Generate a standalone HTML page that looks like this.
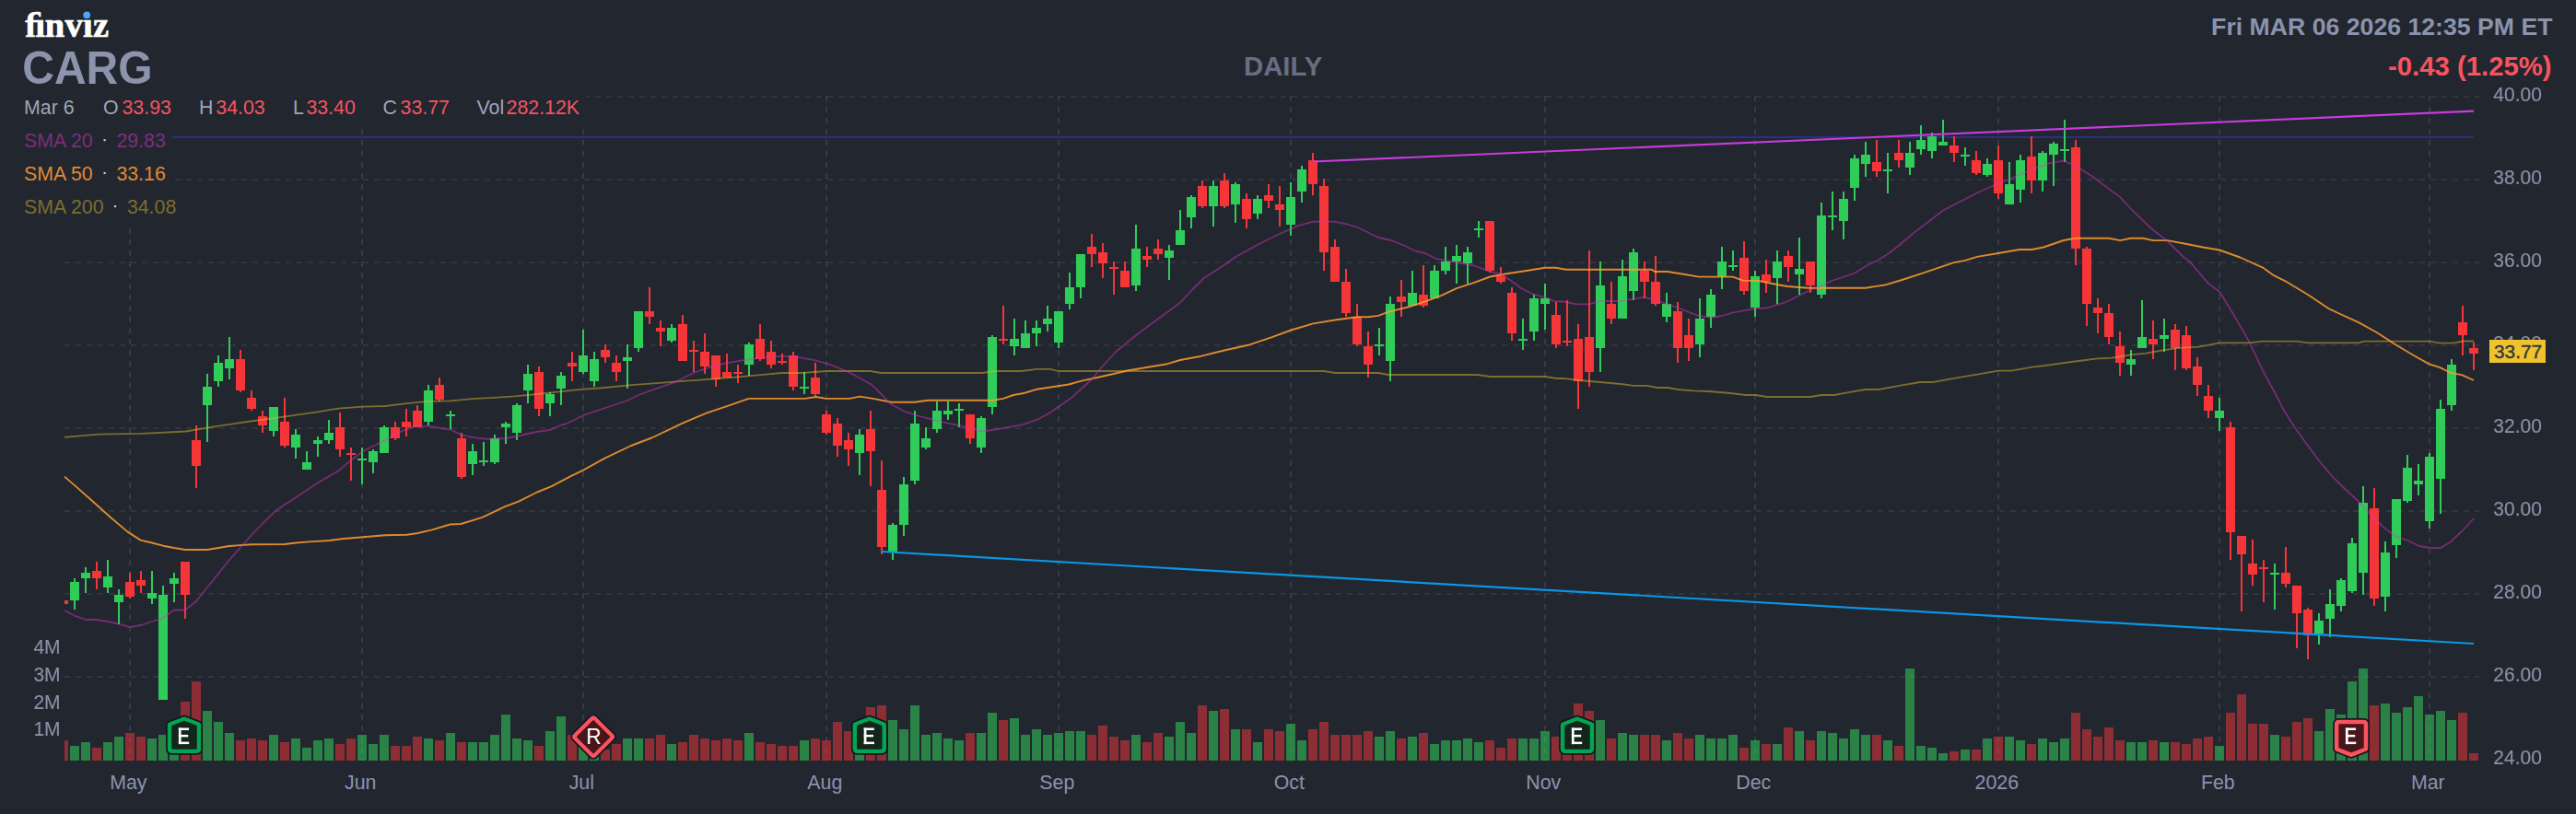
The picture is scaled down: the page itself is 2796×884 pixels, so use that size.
<!DOCTYPE html>
<html><head><meta charset="utf-8"><title>CARG</title><style>
html,body{margin:0;padding:0;background:#22262f;width:2796px;height:884px}
svg{display:block}text{font-family:"Liberation Sans",sans-serif}
.ax{font-size:21px;fill:#8a90a5}.lb{font-size:21.33px;fill:#9fa5b8}.rv{font-size:21.33px;fill:#f8535f}
.bl{stroke:#8a90a5;stroke-width:0.15px;filter:blur(0.4px)}</style></head><body>
<svg width="2796" height="884" viewBox="0 0 2796 884">
<rect x="0" y="0" width="2796" height="884" fill="#22262f"/>
<g stroke="#363a46" stroke-width="2" stroke-dasharray="6 6" fill="none" shape-rendering="crispEdges">
<line x1="70" y1="105" x2="2691" y2="105" stroke="#31353f"/>
<line x1="70" y1="195" x2="2691" y2="195" stroke="#31353f"/>
<line x1="70" y1="285" x2="2691" y2="285" stroke="#31353f"/>
<line x1="70" y1="375" x2="2691" y2="375" stroke="#31353f"/>
<line x1="70" y1="465" x2="2691" y2="465" stroke="#31353f"/>
<line x1="70" y1="555" x2="2691" y2="555" stroke="#31353f"/>
<line x1="70" y1="645" x2="2691" y2="645" stroke="#31353f"/>
<line x1="70" y1="735" x2="2691" y2="735" stroke="#31353f"/>
<line x1="141" y1="104" x2="141" y2="826"/>
<line x1="393" y1="104" x2="393" y2="826"/>
<line x1="633" y1="104" x2="633" y2="826"/>
<line x1="897" y1="104" x2="897" y2="826"/>
<line x1="1149" y1="104" x2="1149" y2="826"/>
<line x1="1401" y1="104" x2="1401" y2="826"/>
<line x1="1677" y1="104" x2="1677" y2="826"/>
<line x1="1905" y1="104" x2="1905" y2="826"/>
<line x1="2169" y1="104" x2="2169" y2="826"/>
<line x1="2409" y1="104" x2="2409" y2="826"/>
<line x1="2637" y1="104" x2="2637" y2="826"/>
</g>
<g shape-rendering="crispEdges">
<rect x="70" y="804" width="4" height="22" fill="#f63538" fill-opacity="0.51"/>
<rect x="76" y="810" width="10" height="16" fill="#30cc5a" fill-opacity="0.555"/>
<rect x="88" y="806" width="10" height="20" fill="#30cc5a" fill-opacity="0.555"/>
<rect x="100" y="812" width="10" height="14" fill="#f63538" fill-opacity="0.51"/>
<rect x="112" y="806" width="10" height="20" fill="#30cc5a" fill-opacity="0.555"/>
<rect x="124" y="800" width="10" height="26" fill="#30cc5a" fill-opacity="0.555"/>
<rect x="136" y="796" width="10" height="30" fill="#f63538" fill-opacity="0.51"/>
<rect x="148" y="800" width="10" height="26" fill="#f63538" fill-opacity="0.51"/>
<rect x="160" y="802" width="10" height="24" fill="#30cc5a" fill-opacity="0.555"/>
<rect x="172" y="798" width="10" height="28" fill="#30cc5a" fill-opacity="0.555"/>
<rect x="184" y="800" width="10" height="26" fill="#30cc5a" fill-opacity="0.555"/>
<rect x="196" y="762" width="10" height="64" fill="#f63538" fill-opacity="0.51"/>
<rect x="208" y="740" width="10" height="86" fill="#f63538" fill-opacity="0.51"/>
<rect x="220" y="772" width="10" height="54" fill="#30cc5a" fill-opacity="0.555"/>
<rect x="232" y="784" width="10" height="42" fill="#30cc5a" fill-opacity="0.555"/>
<rect x="244" y="796" width="10" height="30" fill="#30cc5a" fill-opacity="0.555"/>
<rect x="256" y="804" width="10" height="22" fill="#f63538" fill-opacity="0.51"/>
<rect x="268" y="802" width="10" height="24" fill="#f63538" fill-opacity="0.51"/>
<rect x="280" y="804" width="10" height="22" fill="#f63538" fill-opacity="0.51"/>
<rect x="292" y="798" width="10" height="28" fill="#30cc5a" fill-opacity="0.555"/>
<rect x="304" y="806" width="10" height="20" fill="#f63538" fill-opacity="0.51"/>
<rect x="316" y="802" width="10" height="24" fill="#30cc5a" fill-opacity="0.555"/>
<rect x="328" y="812" width="10" height="14" fill="#30cc5a" fill-opacity="0.555"/>
<rect x="340" y="804" width="10" height="22" fill="#30cc5a" fill-opacity="0.555"/>
<rect x="352" y="802" width="10" height="24" fill="#30cc5a" fill-opacity="0.555"/>
<rect x="364" y="808" width="10" height="18" fill="#f63538" fill-opacity="0.51"/>
<rect x="376" y="802" width="10" height="24" fill="#f63538" fill-opacity="0.51"/>
<rect x="388" y="798" width="10" height="28" fill="#30cc5a" fill-opacity="0.555"/>
<rect x="400" y="808" width="10" height="18" fill="#30cc5a" fill-opacity="0.555"/>
<rect x="412" y="798" width="10" height="28" fill="#30cc5a" fill-opacity="0.555"/>
<rect x="424" y="810" width="10" height="16" fill="#f63538" fill-opacity="0.51"/>
<rect x="436" y="810" width="10" height="16" fill="#f63538" fill-opacity="0.51"/>
<rect x="448" y="800" width="10" height="26" fill="#f63538" fill-opacity="0.51"/>
<rect x="460" y="802" width="10" height="24" fill="#30cc5a" fill-opacity="0.555"/>
<rect x="472" y="804" width="10" height="22" fill="#f63538" fill-opacity="0.51"/>
<rect x="484" y="796" width="10" height="30" fill="#30cc5a" fill-opacity="0.555"/>
<rect x="496" y="806" width="10" height="20" fill="#f63538" fill-opacity="0.51"/>
<rect x="508" y="806" width="10" height="20" fill="#30cc5a" fill-opacity="0.555"/>
<rect x="520" y="806" width="10" height="20" fill="#30cc5a" fill-opacity="0.555"/>
<rect x="532" y="798" width="10" height="28" fill="#30cc5a" fill-opacity="0.555"/>
<rect x="544" y="776" width="10" height="50" fill="#30cc5a" fill-opacity="0.555"/>
<rect x="556" y="802" width="10" height="24" fill="#30cc5a" fill-opacity="0.555"/>
<rect x="568" y="804" width="10" height="22" fill="#30cc5a" fill-opacity="0.555"/>
<rect x="580" y="810" width="10" height="16" fill="#f63538" fill-opacity="0.51"/>
<rect x="592" y="794" width="10" height="32" fill="#30cc5a" fill-opacity="0.555"/>
<rect x="604" y="778" width="10" height="48" fill="#30cc5a" fill-opacity="0.555"/>
<rect x="616" y="798" width="10" height="28" fill="#f63538" fill-opacity="0.51"/>
<rect x="628" y="806" width="10" height="20" fill="#30cc5a" fill-opacity="0.555"/>
<rect x="640" y="804" width="10" height="22" fill="#30cc5a" fill-opacity="0.555"/>
<rect x="652" y="814" width="10" height="12" fill="#f63538" fill-opacity="0.51"/>
<rect x="664" y="808" width="10" height="18" fill="#f63538" fill-opacity="0.51"/>
<rect x="676" y="802" width="10" height="24" fill="#30cc5a" fill-opacity="0.555"/>
<rect x="688" y="802" width="10" height="24" fill="#30cc5a" fill-opacity="0.555"/>
<rect x="700" y="802" width="10" height="24" fill="#f63538" fill-opacity="0.51"/>
<rect x="712" y="798" width="10" height="28" fill="#f63538" fill-opacity="0.51"/>
<rect x="724" y="808" width="10" height="18" fill="#30cc5a" fill-opacity="0.555"/>
<rect x="736" y="806" width="10" height="20" fill="#f63538" fill-opacity="0.51"/>
<rect x="748" y="798" width="10" height="28" fill="#f63538" fill-opacity="0.51"/>
<rect x="760" y="802" width="10" height="24" fill="#f63538" fill-opacity="0.51"/>
<rect x="772" y="804" width="10" height="22" fill="#f63538" fill-opacity="0.51"/>
<rect x="784" y="802" width="10" height="24" fill="#f63538" fill-opacity="0.51"/>
<rect x="796" y="804" width="10" height="22" fill="#f63538" fill-opacity="0.51"/>
<rect x="808" y="796" width="10" height="30" fill="#30cc5a" fill-opacity="0.555"/>
<rect x="820" y="806" width="10" height="20" fill="#f63538" fill-opacity="0.51"/>
<rect x="832" y="808" width="10" height="18" fill="#f63538" fill-opacity="0.51"/>
<rect x="844" y="810" width="10" height="16" fill="#f63538" fill-opacity="0.51"/>
<rect x="856" y="810" width="10" height="16" fill="#f63538" fill-opacity="0.51"/>
<rect x="868" y="804" width="10" height="22" fill="#30cc5a" fill-opacity="0.555"/>
<rect x="880" y="802" width="10" height="24" fill="#f63538" fill-opacity="0.51"/>
<rect x="892" y="804" width="10" height="22" fill="#f63538" fill-opacity="0.51"/>
<rect x="904" y="784" width="10" height="42" fill="#f63538" fill-opacity="0.51"/>
<rect x="916" y="794" width="10" height="32" fill="#f63538" fill-opacity="0.51"/>
<rect x="928" y="794" width="10" height="32" fill="#30cc5a" fill-opacity="0.555"/>
<rect x="940" y="768" width="10" height="58" fill="#f63538" fill-opacity="0.51"/>
<rect x="952" y="766" width="10" height="60" fill="#f63538" fill-opacity="0.51"/>
<rect x="964" y="782" width="10" height="44" fill="#30cc5a" fill-opacity="0.555"/>
<rect x="976" y="792" width="10" height="34" fill="#30cc5a" fill-opacity="0.555"/>
<rect x="988" y="766" width="10" height="60" fill="#30cc5a" fill-opacity="0.555"/>
<rect x="1000" y="798" width="10" height="28" fill="#30cc5a" fill-opacity="0.555"/>
<rect x="1012" y="796" width="10" height="30" fill="#30cc5a" fill-opacity="0.555"/>
<rect x="1024" y="802" width="10" height="24" fill="#30cc5a" fill-opacity="0.555"/>
<rect x="1036" y="804" width="10" height="22" fill="#30cc5a" fill-opacity="0.555"/>
<rect x="1048" y="796" width="10" height="30" fill="#f63538" fill-opacity="0.51"/>
<rect x="1060" y="796" width="10" height="30" fill="#30cc5a" fill-opacity="0.555"/>
<rect x="1072" y="774" width="10" height="52" fill="#30cc5a" fill-opacity="0.555"/>
<rect x="1084" y="782" width="10" height="44" fill="#f63538" fill-opacity="0.51"/>
<rect x="1096" y="780" width="10" height="46" fill="#30cc5a" fill-opacity="0.555"/>
<rect x="1108" y="798" width="10" height="28" fill="#30cc5a" fill-opacity="0.555"/>
<rect x="1120" y="792" width="10" height="34" fill="#30cc5a" fill-opacity="0.555"/>
<rect x="1132" y="798" width="10" height="28" fill="#30cc5a" fill-opacity="0.555"/>
<rect x="1144" y="796" width="10" height="30" fill="#30cc5a" fill-opacity="0.555"/>
<rect x="1156" y="794" width="10" height="32" fill="#30cc5a" fill-opacity="0.555"/>
<rect x="1168" y="794" width="10" height="32" fill="#30cc5a" fill-opacity="0.555"/>
<rect x="1180" y="798" width="10" height="28" fill="#f63538" fill-opacity="0.51"/>
<rect x="1192" y="788" width="10" height="38" fill="#f63538" fill-opacity="0.51"/>
<rect x="1204" y="800" width="10" height="26" fill="#f63538" fill-opacity="0.51"/>
<rect x="1216" y="804" width="10" height="22" fill="#f63538" fill-opacity="0.51"/>
<rect x="1228" y="798" width="10" height="28" fill="#30cc5a" fill-opacity="0.555"/>
<rect x="1240" y="806" width="10" height="20" fill="#f63538" fill-opacity="0.51"/>
<rect x="1252" y="796" width="10" height="30" fill="#f63538" fill-opacity="0.51"/>
<rect x="1264" y="800" width="10" height="26" fill="#30cc5a" fill-opacity="0.555"/>
<rect x="1276" y="784" width="10" height="42" fill="#30cc5a" fill-opacity="0.555"/>
<rect x="1288" y="796" width="10" height="30" fill="#30cc5a" fill-opacity="0.555"/>
<rect x="1300" y="766" width="10" height="60" fill="#f63538" fill-opacity="0.51"/>
<rect x="1312" y="772" width="10" height="54" fill="#30cc5a" fill-opacity="0.555"/>
<rect x="1324" y="770" width="10" height="56" fill="#f63538" fill-opacity="0.51"/>
<rect x="1336" y="792" width="10" height="34" fill="#30cc5a" fill-opacity="0.555"/>
<rect x="1348" y="792" width="10" height="34" fill="#f63538" fill-opacity="0.51"/>
<rect x="1360" y="806" width="10" height="20" fill="#30cc5a" fill-opacity="0.555"/>
<rect x="1372" y="792" width="10" height="34" fill="#f63538" fill-opacity="0.51"/>
<rect x="1384" y="794" width="10" height="32" fill="#f63538" fill-opacity="0.51"/>
<rect x="1396" y="786" width="10" height="40" fill="#30cc5a" fill-opacity="0.555"/>
<rect x="1408" y="804" width="10" height="22" fill="#30cc5a" fill-opacity="0.555"/>
<rect x="1420" y="792" width="10" height="34" fill="#f63538" fill-opacity="0.51"/>
<rect x="1432" y="784" width="10" height="42" fill="#f63538" fill-opacity="0.51"/>
<rect x="1444" y="798" width="10" height="28" fill="#f63538" fill-opacity="0.51"/>
<rect x="1456" y="798" width="10" height="28" fill="#f63538" fill-opacity="0.51"/>
<rect x="1468" y="798" width="10" height="28" fill="#f63538" fill-opacity="0.51"/>
<rect x="1480" y="794" width="10" height="32" fill="#f63538" fill-opacity="0.51"/>
<rect x="1492" y="800" width="10" height="26" fill="#30cc5a" fill-opacity="0.555"/>
<rect x="1504" y="794" width="10" height="32" fill="#30cc5a" fill-opacity="0.555"/>
<rect x="1516" y="802" width="10" height="24" fill="#f63538" fill-opacity="0.51"/>
<rect x="1528" y="800" width="10" height="26" fill="#30cc5a" fill-opacity="0.555"/>
<rect x="1540" y="796" width="10" height="30" fill="#f63538" fill-opacity="0.51"/>
<rect x="1552" y="808" width="10" height="18" fill="#30cc5a" fill-opacity="0.555"/>
<rect x="1564" y="804" width="10" height="22" fill="#30cc5a" fill-opacity="0.555"/>
<rect x="1576" y="804" width="10" height="22" fill="#30cc5a" fill-opacity="0.555"/>
<rect x="1588" y="802" width="10" height="24" fill="#30cc5a" fill-opacity="0.555"/>
<rect x="1600" y="806" width="10" height="20" fill="#30cc5a" fill-opacity="0.555"/>
<rect x="1612" y="804" width="10" height="22" fill="#f63538" fill-opacity="0.51"/>
<rect x="1624" y="812" width="10" height="14" fill="#f63538" fill-opacity="0.51"/>
<rect x="1636" y="802" width="10" height="24" fill="#f63538" fill-opacity="0.51"/>
<rect x="1648" y="802" width="10" height="24" fill="#30cc5a" fill-opacity="0.555"/>
<rect x="1660" y="802" width="10" height="24" fill="#30cc5a" fill-opacity="0.555"/>
<rect x="1672" y="794" width="10" height="32" fill="#30cc5a" fill-opacity="0.555"/>
<rect x="1684" y="800" width="10" height="26" fill="#f63538" fill-opacity="0.51"/>
<rect x="1696" y="796" width="10" height="30" fill="#f63538" fill-opacity="0.51"/>
<rect x="1708" y="764" width="10" height="62" fill="#f63538" fill-opacity="0.51"/>
<rect x="1720" y="772" width="10" height="54" fill="#f63538" fill-opacity="0.51"/>
<rect x="1732" y="782" width="10" height="44" fill="#30cc5a" fill-opacity="0.555"/>
<rect x="1744" y="802" width="10" height="24" fill="#f63538" fill-opacity="0.51"/>
<rect x="1756" y="796" width="10" height="30" fill="#30cc5a" fill-opacity="0.555"/>
<rect x="1768" y="798" width="10" height="28" fill="#30cc5a" fill-opacity="0.555"/>
<rect x="1780" y="798" width="10" height="28" fill="#f63538" fill-opacity="0.51"/>
<rect x="1792" y="798" width="10" height="28" fill="#f63538" fill-opacity="0.51"/>
<rect x="1804" y="804" width="10" height="22" fill="#30cc5a" fill-opacity="0.555"/>
<rect x="1816" y="796" width="10" height="30" fill="#f63538" fill-opacity="0.51"/>
<rect x="1828" y="802" width="10" height="24" fill="#f63538" fill-opacity="0.51"/>
<rect x="1840" y="798" width="10" height="28" fill="#30cc5a" fill-opacity="0.555"/>
<rect x="1852" y="802" width="10" height="24" fill="#30cc5a" fill-opacity="0.555"/>
<rect x="1864" y="802" width="10" height="24" fill="#30cc5a" fill-opacity="0.555"/>
<rect x="1876" y="798" width="10" height="28" fill="#30cc5a" fill-opacity="0.555"/>
<rect x="1888" y="812" width="10" height="14" fill="#f63538" fill-opacity="0.51"/>
<rect x="1900" y="804" width="10" height="22" fill="#30cc5a" fill-opacity="0.555"/>
<rect x="1912" y="808" width="10" height="18" fill="#f63538" fill-opacity="0.51"/>
<rect x="1924" y="808" width="10" height="18" fill="#30cc5a" fill-opacity="0.555"/>
<rect x="1936" y="790" width="10" height="36" fill="#f63538" fill-opacity="0.51"/>
<rect x="1948" y="794" width="10" height="32" fill="#30cc5a" fill-opacity="0.555"/>
<rect x="1960" y="804" width="10" height="22" fill="#f63538" fill-opacity="0.51"/>
<rect x="1972" y="794" width="10" height="32" fill="#30cc5a" fill-opacity="0.555"/>
<rect x="1984" y="796" width="10" height="30" fill="#30cc5a" fill-opacity="0.555"/>
<rect x="1996" y="802" width="10" height="24" fill="#30cc5a" fill-opacity="0.555"/>
<rect x="2008" y="792" width="10" height="34" fill="#30cc5a" fill-opacity="0.555"/>
<rect x="2020" y="798" width="10" height="28" fill="#30cc5a" fill-opacity="0.555"/>
<rect x="2032" y="798" width="10" height="28" fill="#f63538" fill-opacity="0.51"/>
<rect x="2044" y="804" width="10" height="22" fill="#30cc5a" fill-opacity="0.555"/>
<rect x="2056" y="810" width="10" height="16" fill="#f63538" fill-opacity="0.51"/>
<rect x="2068" y="726" width="10" height="100" fill="#30cc5a" fill-opacity="0.555"/>
<rect x="2080" y="810" width="10" height="16" fill="#30cc5a" fill-opacity="0.555"/>
<rect x="2092" y="812" width="10" height="14" fill="#30cc5a" fill-opacity="0.555"/>
<rect x="2104" y="818" width="10" height="8" fill="#30cc5a" fill-opacity="0.555"/>
<rect x="2116" y="816" width="10" height="10" fill="#f63538" fill-opacity="0.51"/>
<rect x="2128" y="814" width="10" height="12" fill="#30cc5a" fill-opacity="0.555"/>
<rect x="2140" y="814" width="10" height="12" fill="#f63538" fill-opacity="0.51"/>
<rect x="2152" y="802" width="10" height="24" fill="#30cc5a" fill-opacity="0.555"/>
<rect x="2164" y="800" width="10" height="26" fill="#f63538" fill-opacity="0.51"/>
<rect x="2176" y="800" width="10" height="26" fill="#30cc5a" fill-opacity="0.555"/>
<rect x="2188" y="804" width="10" height="22" fill="#30cc5a" fill-opacity="0.555"/>
<rect x="2200" y="808" width="10" height="18" fill="#f63538" fill-opacity="0.51"/>
<rect x="2212" y="802" width="10" height="24" fill="#30cc5a" fill-opacity="0.555"/>
<rect x="2224" y="806" width="10" height="20" fill="#30cc5a" fill-opacity="0.555"/>
<rect x="2236" y="802" width="10" height="24" fill="#30cc5a" fill-opacity="0.555"/>
<rect x="2248" y="774" width="10" height="52" fill="#f63538" fill-opacity="0.51"/>
<rect x="2260" y="792" width="10" height="34" fill="#f63538" fill-opacity="0.51"/>
<rect x="2272" y="800" width="10" height="26" fill="#f63538" fill-opacity="0.51"/>
<rect x="2284" y="790" width="10" height="36" fill="#f63538" fill-opacity="0.51"/>
<rect x="2296" y="804" width="10" height="22" fill="#f63538" fill-opacity="0.51"/>
<rect x="2308" y="806" width="10" height="20" fill="#30cc5a" fill-opacity="0.555"/>
<rect x="2320" y="806" width="10" height="20" fill="#30cc5a" fill-opacity="0.555"/>
<rect x="2332" y="804" width="10" height="22" fill="#f63538" fill-opacity="0.51"/>
<rect x="2344" y="806" width="10" height="20" fill="#30cc5a" fill-opacity="0.555"/>
<rect x="2356" y="806" width="10" height="20" fill="#f63538" fill-opacity="0.51"/>
<rect x="2368" y="808" width="10" height="18" fill="#f63538" fill-opacity="0.51"/>
<rect x="2380" y="802" width="10" height="24" fill="#f63538" fill-opacity="0.51"/>
<rect x="2392" y="800" width="10" height="26" fill="#f63538" fill-opacity="0.51"/>
<rect x="2404" y="810" width="10" height="16" fill="#30cc5a" fill-opacity="0.555"/>
<rect x="2416" y="774" width="10" height="52" fill="#f63538" fill-opacity="0.51"/>
<rect x="2428" y="754" width="10" height="72" fill="#f63538" fill-opacity="0.51"/>
<rect x="2440" y="786" width="10" height="40" fill="#f63538" fill-opacity="0.51"/>
<rect x="2452" y="786" width="10" height="40" fill="#f63538" fill-opacity="0.51"/>
<rect x="2464" y="798" width="10" height="28" fill="#30cc5a" fill-opacity="0.555"/>
<rect x="2476" y="800" width="10" height="26" fill="#f63538" fill-opacity="0.51"/>
<rect x="2488" y="784" width="10" height="42" fill="#f63538" fill-opacity="0.51"/>
<rect x="2500" y="780" width="10" height="46" fill="#f63538" fill-opacity="0.51"/>
<rect x="2512" y="794" width="10" height="32" fill="#30cc5a" fill-opacity="0.555"/>
<rect x="2524" y="770" width="10" height="56" fill="#30cc5a" fill-opacity="0.555"/>
<rect x="2536" y="776" width="10" height="50" fill="#30cc5a" fill-opacity="0.555"/>
<rect x="2548" y="740" width="10" height="86" fill="#30cc5a" fill-opacity="0.555"/>
<rect x="2560" y="726" width="10" height="100" fill="#30cc5a" fill-opacity="0.555"/>
<rect x="2572" y="766" width="10" height="60" fill="#f63538" fill-opacity="0.51"/>
<rect x="2584" y="764" width="10" height="62" fill="#30cc5a" fill-opacity="0.555"/>
<rect x="2596" y="774" width="10" height="52" fill="#30cc5a" fill-opacity="0.555"/>
<rect x="2608" y="768" width="10" height="58" fill="#30cc5a" fill-opacity="0.555"/>
<rect x="2620" y="756" width="10" height="70" fill="#30cc5a" fill-opacity="0.555"/>
<rect x="2632" y="776" width="10" height="50" fill="#30cc5a" fill-opacity="0.555"/>
<rect x="2644" y="772" width="10" height="54" fill="#30cc5a" fill-opacity="0.555"/>
<rect x="2656" y="782" width="10" height="44" fill="#30cc5a" fill-opacity="0.555"/>
<rect x="2668" y="774" width="10" height="52" fill="#f63538" fill-opacity="0.51"/>
<rect x="2680" y="818" width="10" height="8" fill="#f63538" fill-opacity="0.51"/>
</g>
<line x1="70" y1="149" x2="2685" y2="149" stroke="#2e2e86" stroke-width="2"/>
<g shape-rendering="crispEdges">
<rect x="70" y="652" width="4" height="4" fill="#f63538"/>
<rect x="80" y="628" width="2" height="34" fill="#30cc5a"/>
<rect x="76" y="632" width="10" height="20" fill="#30cc5a"/>
<rect x="92" y="616" width="2" height="28" fill="#30cc5a"/>
<rect x="88" y="622" width="10" height="6" fill="#30cc5a"/>
<rect x="104" y="610" width="2" height="30" fill="#f63538"/>
<rect x="100" y="620" width="10" height="8" fill="#f63538"/>
<rect x="116" y="608" width="2" height="36" fill="#30cc5a"/>
<rect x="112" y="626" width="10" height="12" fill="#30cc5a"/>
<rect x="128" y="640" width="2" height="38" fill="#30cc5a"/>
<rect x="124" y="646" width="10" height="8" fill="#30cc5a"/>
<rect x="140" y="622" width="2" height="28" fill="#f63538"/>
<rect x="136" y="632" width="10" height="16" fill="#f63538"/>
<rect x="152" y="620" width="2" height="24" fill="#f63538"/>
<rect x="148" y="630" width="10" height="6" fill="#f63538"/>
<rect x="164" y="620" width="2" height="36" fill="#30cc5a"/>
<rect x="160" y="644" width="10" height="6" fill="#30cc5a"/>
<rect x="176" y="636" width="2" height="124" fill="#30cc5a"/>
<rect x="172" y="646" width="10" height="114" fill="#30cc5a"/>
<rect x="188" y="622" width="2" height="32" fill="#30cc5a"/>
<rect x="184" y="628" width="10" height="6" fill="#30cc5a"/>
<rect x="200" y="610" width="2" height="62" fill="#f63538"/>
<rect x="196" y="610" width="10" height="36" fill="#f63538"/>
<rect x="212" y="462" width="2" height="68" fill="#f63538"/>
<rect x="208" y="478" width="10" height="28" fill="#f63538"/>
<rect x="224" y="406" width="2" height="74" fill="#30cc5a"/>
<rect x="220" y="420" width="10" height="20" fill="#30cc5a"/>
<rect x="236" y="386" width="2" height="34" fill="#30cc5a"/>
<rect x="232" y="394" width="10" height="20" fill="#30cc5a"/>
<rect x="248" y="366" width="2" height="46" fill="#30cc5a"/>
<rect x="244" y="390" width="10" height="10" fill="#30cc5a"/>
<rect x="260" y="380" width="2" height="46" fill="#f63538"/>
<rect x="256" y="390" width="10" height="34" fill="#f63538"/>
<rect x="272" y="424" width="2" height="22" fill="#f63538"/>
<rect x="268" y="432" width="10" height="12" fill="#f63538"/>
<rect x="284" y="446" width="2" height="24" fill="#f63538"/>
<rect x="280" y="452" width="10" height="10" fill="#f63538"/>
<rect x="296" y="442" width="2" height="32" fill="#30cc5a"/>
<rect x="292" y="442" width="10" height="26" fill="#30cc5a"/>
<rect x="308" y="432" width="2" height="54" fill="#f63538"/>
<rect x="304" y="458" width="10" height="26" fill="#f63538"/>
<rect x="320" y="466" width="2" height="32" fill="#30cc5a"/>
<rect x="316" y="472" width="10" height="14" fill="#30cc5a"/>
<rect x="332" y="490" width="2" height="20" fill="#30cc5a"/>
<rect x="328" y="502" width="10" height="8" fill="#30cc5a"/>
<rect x="344" y="474" width="2" height="22" fill="#30cc5a"/>
<rect x="340" y="478" width="10" height="4" fill="#30cc5a"/>
<rect x="356" y="456" width="2" height="26" fill="#30cc5a"/>
<rect x="352" y="470" width="10" height="8" fill="#30cc5a"/>
<rect x="368" y="448" width="2" height="48" fill="#f63538"/>
<rect x="364" y="464" width="10" height="24" fill="#f63538"/>
<rect x="380" y="486" width="2" height="36" fill="#f63538"/>
<rect x="376" y="492" width="10" height="2" fill="#f63538"/>
<rect x="392" y="486" width="2" height="40" fill="#30cc5a"/>
<rect x="388" y="498" width="10" height="2" fill="#30cc5a"/>
<rect x="404" y="488" width="2" height="26" fill="#30cc5a"/>
<rect x="400" y="490" width="10" height="12" fill="#30cc5a"/>
<rect x="416" y="462" width="2" height="30" fill="#30cc5a"/>
<rect x="412" y="464" width="10" height="28" fill="#30cc5a"/>
<rect x="428" y="458" width="2" height="20" fill="#f63538"/>
<rect x="424" y="464" width="10" height="12" fill="#f63538"/>
<rect x="440" y="444" width="2" height="30" fill="#f63538"/>
<rect x="436" y="458" width="10" height="6" fill="#f63538"/>
<rect x="452" y="440" width="2" height="24" fill="#f63538"/>
<rect x="448" y="446" width="10" height="18" fill="#f63538"/>
<rect x="464" y="418" width="2" height="44" fill="#30cc5a"/>
<rect x="460" y="424" width="10" height="34" fill="#30cc5a"/>
<rect x="476" y="410" width="2" height="26" fill="#f63538"/>
<rect x="472" y="418" width="10" height="16" fill="#f63538"/>
<rect x="488" y="446" width="2" height="20" fill="#30cc5a"/>
<rect x="484" y="450" width="10" height="2" fill="#30cc5a"/>
<rect x="500" y="470" width="2" height="50" fill="#f63538"/>
<rect x="496" y="476" width="10" height="42" fill="#f63538"/>
<rect x="512" y="482" width="2" height="34" fill="#30cc5a"/>
<rect x="508" y="490" width="10" height="14" fill="#30cc5a"/>
<rect x="524" y="480" width="2" height="26" fill="#30cc5a"/>
<rect x="520" y="500" width="10" height="2" fill="#30cc5a"/>
<rect x="536" y="472" width="2" height="32" fill="#30cc5a"/>
<rect x="532" y="476" width="10" height="26" fill="#30cc5a"/>
<rect x="548" y="458" width="2" height="24" fill="#30cc5a"/>
<rect x="544" y="460" width="10" height="4" fill="#30cc5a"/>
<rect x="560" y="438" width="2" height="40" fill="#30cc5a"/>
<rect x="556" y="440" width="10" height="30" fill="#30cc5a"/>
<rect x="572" y="396" width="2" height="42" fill="#30cc5a"/>
<rect x="568" y="406" width="10" height="18" fill="#30cc5a"/>
<rect x="584" y="398" width="2" height="54" fill="#f63538"/>
<rect x="580" y="404" width="10" height="40" fill="#f63538"/>
<rect x="596" y="426" width="2" height="26" fill="#30cc5a"/>
<rect x="592" y="428" width="10" height="10" fill="#30cc5a"/>
<rect x="608" y="404" width="2" height="36" fill="#30cc5a"/>
<rect x="604" y="408" width="10" height="14" fill="#30cc5a"/>
<rect x="620" y="382" width="2" height="32" fill="#f63538"/>
<rect x="616" y="394" width="10" height="4" fill="#f63538"/>
<rect x="632" y="358" width="2" height="48" fill="#30cc5a"/>
<rect x="628" y="386" width="10" height="18" fill="#30cc5a"/>
<rect x="644" y="382" width="2" height="38" fill="#30cc5a"/>
<rect x="640" y="390" width="10" height="24" fill="#30cc5a"/>
<rect x="656" y="374" width="2" height="20" fill="#f63538"/>
<rect x="652" y="380" width="10" height="8" fill="#f63538"/>
<rect x="668" y="386" width="2" height="28" fill="#f63538"/>
<rect x="664" y="394" width="10" height="10" fill="#f63538"/>
<rect x="680" y="374" width="2" height="48" fill="#30cc5a"/>
<rect x="676" y="388" width="10" height="4" fill="#30cc5a"/>
<rect x="692" y="338" width="2" height="44" fill="#30cc5a"/>
<rect x="688" y="338" width="10" height="40" fill="#30cc5a"/>
<rect x="704" y="312" width="2" height="40" fill="#f63538"/>
<rect x="700" y="338" width="10" height="6" fill="#f63538"/>
<rect x="716" y="348" width="2" height="28" fill="#f63538"/>
<rect x="712" y="356" width="10" height="4" fill="#f63538"/>
<rect x="728" y="352" width="2" height="20" fill="#30cc5a"/>
<rect x="724" y="356" width="10" height="14" fill="#30cc5a"/>
<rect x="740" y="342" width="2" height="50" fill="#f63538"/>
<rect x="736" y="352" width="10" height="40" fill="#f63538"/>
<rect x="752" y="370" width="2" height="34" fill="#f63538"/>
<rect x="748" y="380" width="10" height="2" fill="#f63538"/>
<rect x="764" y="362" width="2" height="44" fill="#f63538"/>
<rect x="760" y="382" width="10" height="16" fill="#f63538"/>
<rect x="776" y="386" width="2" height="34" fill="#f63538"/>
<rect x="772" y="386" width="10" height="26" fill="#f63538"/>
<rect x="788" y="384" width="2" height="26" fill="#f63538"/>
<rect x="784" y="404" width="10" height="6" fill="#f63538"/>
<rect x="800" y="396" width="2" height="20" fill="#f63538"/>
<rect x="796" y="404" width="10" height="2" fill="#f63538"/>
<rect x="812" y="372" width="2" height="36" fill="#30cc5a"/>
<rect x="808" y="374" width="10" height="22" fill="#30cc5a"/>
<rect x="824" y="352" width="2" height="40" fill="#f63538"/>
<rect x="820" y="368" width="10" height="22" fill="#f63538"/>
<rect x="836" y="370" width="2" height="30" fill="#f63538"/>
<rect x="832" y="382" width="10" height="14" fill="#f63538"/>
<rect x="848" y="384" width="2" height="12" fill="#f63538"/>
<rect x="844" y="392" width="10" height="2" fill="#f63538"/>
<rect x="860" y="382" width="2" height="42" fill="#f63538"/>
<rect x="856" y="386" width="10" height="34" fill="#f63538"/>
<rect x="872" y="404" width="2" height="24" fill="#30cc5a"/>
<rect x="868" y="420" width="10" height="2" fill="#30cc5a"/>
<rect x="884" y="394" width="2" height="36" fill="#f63538"/>
<rect x="880" y="410" width="10" height="18" fill="#f63538"/>
<rect x="896" y="446" width="2" height="26" fill="#f63538"/>
<rect x="892" y="450" width="10" height="20" fill="#f63538"/>
<rect x="908" y="454" width="2" height="42" fill="#f63538"/>
<rect x="904" y="460" width="10" height="24" fill="#f63538"/>
<rect x="920" y="470" width="2" height="36" fill="#f63538"/>
<rect x="916" y="478" width="10" height="10" fill="#f63538"/>
<rect x="932" y="466" width="2" height="50" fill="#30cc5a"/>
<rect x="928" y="472" width="10" height="20" fill="#30cc5a"/>
<rect x="944" y="446" width="2" height="82" fill="#f63538"/>
<rect x="940" y="466" width="10" height="24" fill="#f63538"/>
<rect x="956" y="500" width="2" height="102" fill="#f63538"/>
<rect x="952" y="532" width="10" height="62" fill="#f63538"/>
<rect x="968" y="568" width="2" height="40" fill="#30cc5a"/>
<rect x="964" y="570" width="10" height="29" fill="#30cc5a"/>
<rect x="980" y="518" width="2" height="64" fill="#30cc5a"/>
<rect x="976" y="526" width="10" height="44" fill="#30cc5a"/>
<rect x="992" y="446" width="2" height="80" fill="#30cc5a"/>
<rect x="988" y="460" width="10" height="62" fill="#30cc5a"/>
<rect x="1004" y="464" width="2" height="24" fill="#30cc5a"/>
<rect x="1000" y="476" width="10" height="10" fill="#30cc5a"/>
<rect x="1016" y="436" width="2" height="34" fill="#30cc5a"/>
<rect x="1012" y="446" width="10" height="20" fill="#30cc5a"/>
<rect x="1028" y="436" width="2" height="20" fill="#30cc5a"/>
<rect x="1024" y="446" width="10" height="4" fill="#30cc5a"/>
<rect x="1040" y="438" width="2" height="26" fill="#30cc5a"/>
<rect x="1036" y="444" width="10" height="2" fill="#30cc5a"/>
<rect x="1052" y="450" width="2" height="32" fill="#f63538"/>
<rect x="1048" y="450" width="10" height="26" fill="#f63538"/>
<rect x="1064" y="452" width="2" height="40" fill="#30cc5a"/>
<rect x="1060" y="454" width="10" height="32" fill="#30cc5a"/>
<rect x="1076" y="364" width="2" height="86" fill="#30cc5a"/>
<rect x="1072" y="366" width="10" height="76" fill="#30cc5a"/>
<rect x="1088" y="332" width="2" height="42" fill="#f63538"/>
<rect x="1084" y="368" width="10" height="2" fill="#f63538"/>
<rect x="1100" y="346" width="2" height="40" fill="#30cc5a"/>
<rect x="1096" y="368" width="10" height="8" fill="#30cc5a"/>
<rect x="1112" y="348" width="2" height="30" fill="#30cc5a"/>
<rect x="1108" y="362" width="10" height="16" fill="#30cc5a"/>
<rect x="1124" y="348" width="2" height="28" fill="#30cc5a"/>
<rect x="1120" y="356" width="10" height="6" fill="#30cc5a"/>
<rect x="1136" y="332" width="2" height="28" fill="#30cc5a"/>
<rect x="1132" y="346" width="10" height="6" fill="#30cc5a"/>
<rect x="1148" y="338" width="2" height="40" fill="#30cc5a"/>
<rect x="1144" y="338" width="10" height="34" fill="#30cc5a"/>
<rect x="1160" y="296" width="2" height="40" fill="#30cc5a"/>
<rect x="1156" y="312" width="10" height="18" fill="#30cc5a"/>
<rect x="1172" y="276" width="2" height="48" fill="#30cc5a"/>
<rect x="1168" y="276" width="10" height="36" fill="#30cc5a"/>
<rect x="1184" y="254" width="2" height="36" fill="#f63538"/>
<rect x="1180" y="268" width="10" height="8" fill="#f63538"/>
<rect x="1196" y="264" width="2" height="38" fill="#f63538"/>
<rect x="1192" y="274" width="10" height="12" fill="#f63538"/>
<rect x="1208" y="284" width="2" height="36" fill="#f63538"/>
<rect x="1204" y="290" width="10" height="2" fill="#f63538"/>
<rect x="1220" y="284" width="2" height="28" fill="#f63538"/>
<rect x="1216" y="294" width="10" height="18" fill="#f63538"/>
<rect x="1232" y="244" width="2" height="72" fill="#30cc5a"/>
<rect x="1228" y="270" width="10" height="40" fill="#30cc5a"/>
<rect x="1244" y="268" width="2" height="22" fill="#f63538"/>
<rect x="1240" y="278" width="10" height="4" fill="#f63538"/>
<rect x="1256" y="260" width="2" height="22" fill="#f63538"/>
<rect x="1252" y="270" width="10" height="6" fill="#f63538"/>
<rect x="1268" y="266" width="2" height="38" fill="#30cc5a"/>
<rect x="1264" y="272" width="10" height="8" fill="#30cc5a"/>
<rect x="1280" y="228" width="2" height="38" fill="#30cc5a"/>
<rect x="1276" y="250" width="10" height="16" fill="#30cc5a"/>
<rect x="1292" y="212" width="2" height="36" fill="#30cc5a"/>
<rect x="1288" y="214" width="10" height="22" fill="#30cc5a"/>
<rect x="1304" y="196" width="2" height="30" fill="#f63538"/>
<rect x="1300" y="202" width="10" height="22" fill="#f63538"/>
<rect x="1316" y="196" width="2" height="50" fill="#30cc5a"/>
<rect x="1312" y="202" width="10" height="22" fill="#30cc5a"/>
<rect x="1328" y="188" width="2" height="38" fill="#f63538"/>
<rect x="1324" y="196" width="10" height="28" fill="#f63538"/>
<rect x="1340" y="198" width="2" height="44" fill="#30cc5a"/>
<rect x="1336" y="200" width="10" height="22" fill="#30cc5a"/>
<rect x="1352" y="210" width="2" height="38" fill="#f63538"/>
<rect x="1348" y="216" width="10" height="22" fill="#f63538"/>
<rect x="1364" y="212" width="2" height="26" fill="#30cc5a"/>
<rect x="1360" y="216" width="10" height="16" fill="#30cc5a"/>
<rect x="1376" y="200" width="2" height="26" fill="#f63538"/>
<rect x="1372" y="212" width="10" height="6" fill="#f63538"/>
<rect x="1388" y="202" width="2" height="44" fill="#f63538"/>
<rect x="1384" y="222" width="10" height="6" fill="#f63538"/>
<rect x="1400" y="198" width="2" height="58" fill="#30cc5a"/>
<rect x="1396" y="214" width="10" height="30" fill="#30cc5a"/>
<rect x="1412" y="180" width="2" height="40" fill="#30cc5a"/>
<rect x="1408" y="184" width="10" height="24" fill="#30cc5a"/>
<rect x="1424" y="166" width="2" height="46" fill="#f63538"/>
<rect x="1420" y="174" width="10" height="26" fill="#f63538"/>
<rect x="1436" y="194" width="2" height="100" fill="#f63538"/>
<rect x="1432" y="202" width="10" height="72" fill="#f63538"/>
<rect x="1448" y="260" width="2" height="46" fill="#f63538"/>
<rect x="1444" y="268" width="10" height="38" fill="#f63538"/>
<rect x="1460" y="292" width="2" height="52" fill="#f63538"/>
<rect x="1456" y="306" width="10" height="34" fill="#f63538"/>
<rect x="1472" y="330" width="2" height="46" fill="#f63538"/>
<rect x="1468" y="344" width="10" height="30" fill="#f63538"/>
<rect x="1484" y="360" width="2" height="50" fill="#f63538"/>
<rect x="1480" y="376" width="10" height="20" fill="#f63538"/>
<rect x="1496" y="356" width="2" height="30" fill="#30cc5a"/>
<rect x="1492" y="374" width="10" height="2" fill="#30cc5a"/>
<rect x="1508" y="322" width="2" height="92" fill="#30cc5a"/>
<rect x="1504" y="330" width="10" height="62" fill="#30cc5a"/>
<rect x="1520" y="304" width="2" height="40" fill="#f63538"/>
<rect x="1516" y="322" width="10" height="6" fill="#f63538"/>
<rect x="1532" y="294" width="2" height="38" fill="#30cc5a"/>
<rect x="1528" y="318" width="10" height="14" fill="#30cc5a"/>
<rect x="1544" y="288" width="2" height="46" fill="#f63538"/>
<rect x="1540" y="320" width="10" height="12" fill="#f63538"/>
<rect x="1556" y="288" width="2" height="36" fill="#30cc5a"/>
<rect x="1552" y="294" width="10" height="30" fill="#30cc5a"/>
<rect x="1568" y="268" width="2" height="30" fill="#30cc5a"/>
<rect x="1564" y="284" width="10" height="10" fill="#30cc5a"/>
<rect x="1580" y="266" width="2" height="42" fill="#30cc5a"/>
<rect x="1576" y="278" width="10" height="6" fill="#30cc5a"/>
<rect x="1592" y="268" width="2" height="40" fill="#30cc5a"/>
<rect x="1588" y="274" width="10" height="12" fill="#30cc5a"/>
<rect x="1604" y="240" width="2" height="18" fill="#30cc5a"/>
<rect x="1600" y="248" width="10" height="2" fill="#30cc5a"/>
<rect x="1616" y="240" width="2" height="56" fill="#f63538"/>
<rect x="1612" y="240" width="10" height="54" fill="#f63538"/>
<rect x="1628" y="290" width="2" height="18" fill="#f63538"/>
<rect x="1624" y="300" width="10" height="6" fill="#f63538"/>
<rect x="1640" y="312" width="2" height="58" fill="#f63538"/>
<rect x="1636" y="318" width="10" height="44" fill="#f63538"/>
<rect x="1652" y="346" width="2" height="34" fill="#30cc5a"/>
<rect x="1648" y="368" width="10" height="2" fill="#30cc5a"/>
<rect x="1664" y="320" width="2" height="50" fill="#30cc5a"/>
<rect x="1660" y="324" width="10" height="36" fill="#30cc5a"/>
<rect x="1676" y="308" width="2" height="50" fill="#30cc5a"/>
<rect x="1672" y="324" width="10" height="6" fill="#30cc5a"/>
<rect x="1688" y="328" width="2" height="50" fill="#f63538"/>
<rect x="1684" y="342" width="10" height="32" fill="#f63538"/>
<rect x="1700" y="326" width="2" height="50" fill="#f63538"/>
<rect x="1696" y="370" width="10" height="2" fill="#f63538"/>
<rect x="1712" y="352" width="2" height="92" fill="#f63538"/>
<rect x="1708" y="368" width="10" height="46" fill="#f63538"/>
<rect x="1724" y="272" width="2" height="148" fill="#f63538"/>
<rect x="1720" y="366" width="10" height="38" fill="#f63538"/>
<rect x="1736" y="284" width="2" height="120" fill="#30cc5a"/>
<rect x="1732" y="310" width="10" height="68" fill="#30cc5a"/>
<rect x="1748" y="306" width="2" height="46" fill="#f63538"/>
<rect x="1744" y="330" width="10" height="16" fill="#f63538"/>
<rect x="1760" y="282" width="2" height="64" fill="#30cc5a"/>
<rect x="1756" y="300" width="10" height="46" fill="#30cc5a"/>
<rect x="1772" y="270" width="2" height="56" fill="#30cc5a"/>
<rect x="1768" y="274" width="10" height="42" fill="#30cc5a"/>
<rect x="1784" y="284" width="2" height="40" fill="#f63538"/>
<rect x="1780" y="294" width="10" height="12" fill="#f63538"/>
<rect x="1796" y="278" width="2" height="54" fill="#f63538"/>
<rect x="1792" y="306" width="10" height="24" fill="#f63538"/>
<rect x="1808" y="318" width="2" height="32" fill="#30cc5a"/>
<rect x="1804" y="330" width="10" height="14" fill="#30cc5a"/>
<rect x="1820" y="328" width="2" height="66" fill="#f63538"/>
<rect x="1816" y="338" width="10" height="40" fill="#f63538"/>
<rect x="1832" y="346" width="2" height="46" fill="#f63538"/>
<rect x="1828" y="364" width="10" height="14" fill="#f63538"/>
<rect x="1844" y="324" width="2" height="64" fill="#30cc5a"/>
<rect x="1840" y="346" width="10" height="28" fill="#30cc5a"/>
<rect x="1856" y="314" width="2" height="42" fill="#30cc5a"/>
<rect x="1852" y="320" width="10" height="24" fill="#30cc5a"/>
<rect x="1868" y="268" width="2" height="46" fill="#30cc5a"/>
<rect x="1864" y="284" width="10" height="16" fill="#30cc5a"/>
<rect x="1880" y="272" width="2" height="22" fill="#30cc5a"/>
<rect x="1876" y="288" width="10" height="2" fill="#30cc5a"/>
<rect x="1892" y="262" width="2" height="58" fill="#f63538"/>
<rect x="1888" y="280" width="10" height="36" fill="#f63538"/>
<rect x="1904" y="294" width="2" height="50" fill="#30cc5a"/>
<rect x="1900" y="300" width="10" height="34" fill="#30cc5a"/>
<rect x="1916" y="282" width="2" height="36" fill="#f63538"/>
<rect x="1912" y="298" width="10" height="8" fill="#f63538"/>
<rect x="1928" y="272" width="2" height="58" fill="#30cc5a"/>
<rect x="1924" y="284" width="10" height="18" fill="#30cc5a"/>
<rect x="1940" y="272" width="2" height="34" fill="#f63538"/>
<rect x="1936" y="278" width="10" height="12" fill="#f63538"/>
<rect x="1952" y="258" width="2" height="62" fill="#30cc5a"/>
<rect x="1948" y="292" width="10" height="6" fill="#30cc5a"/>
<rect x="1964" y="284" width="2" height="34" fill="#f63538"/>
<rect x="1960" y="284" width="10" height="26" fill="#f63538"/>
<rect x="1976" y="220" width="2" height="104" fill="#30cc5a"/>
<rect x="1972" y="234" width="10" height="86" fill="#30cc5a"/>
<rect x="1988" y="208" width="2" height="42" fill="#30cc5a"/>
<rect x="1984" y="234" width="10" height="2" fill="#30cc5a"/>
<rect x="2000" y="208" width="2" height="52" fill="#30cc5a"/>
<rect x="1996" y="216" width="10" height="24" fill="#30cc5a"/>
<rect x="2012" y="168" width="2" height="50" fill="#30cc5a"/>
<rect x="2008" y="172" width="10" height="32" fill="#30cc5a"/>
<rect x="2024" y="154" width="2" height="38" fill="#30cc5a"/>
<rect x="2020" y="168" width="10" height="10" fill="#30cc5a"/>
<rect x="2036" y="152" width="2" height="40" fill="#f63538"/>
<rect x="2032" y="176" width="10" height="10" fill="#f63538"/>
<rect x="2048" y="166" width="2" height="44" fill="#30cc5a"/>
<rect x="2044" y="184" width="10" height="2" fill="#30cc5a"/>
<rect x="2060" y="152" width="2" height="30" fill="#f63538"/>
<rect x="2056" y="166" width="10" height="8" fill="#f63538"/>
<rect x="2072" y="154" width="2" height="36" fill="#30cc5a"/>
<rect x="2068" y="166" width="10" height="16" fill="#30cc5a"/>
<rect x="2084" y="136" width="2" height="32" fill="#30cc5a"/>
<rect x="2080" y="152" width="10" height="10" fill="#30cc5a"/>
<rect x="2096" y="144" width="2" height="28" fill="#30cc5a"/>
<rect x="2092" y="148" width="10" height="16" fill="#30cc5a"/>
<rect x="2108" y="130" width="2" height="28" fill="#30cc5a"/>
<rect x="2104" y="154" width="10" height="4" fill="#30cc5a"/>
<rect x="2120" y="148" width="2" height="28" fill="#f63538"/>
<rect x="2116" y="158" width="10" height="8" fill="#f63538"/>
<rect x="2132" y="160" width="2" height="20" fill="#30cc5a"/>
<rect x="2128" y="168" width="10" height="2" fill="#30cc5a"/>
<rect x="2144" y="164" width="2" height="26" fill="#f63538"/>
<rect x="2140" y="174" width="10" height="14" fill="#f63538"/>
<rect x="2156" y="172" width="2" height="20" fill="#30cc5a"/>
<rect x="2152" y="178" width="10" height="12" fill="#30cc5a"/>
<rect x="2168" y="158" width="2" height="58" fill="#f63538"/>
<rect x="2164" y="174" width="10" height="36" fill="#f63538"/>
<rect x="2180" y="176" width="2" height="46" fill="#30cc5a"/>
<rect x="2176" y="200" width="10" height="22" fill="#30cc5a"/>
<rect x="2192" y="168" width="2" height="52" fill="#30cc5a"/>
<rect x="2188" y="174" width="10" height="32" fill="#30cc5a"/>
<rect x="2204" y="148" width="2" height="62" fill="#f63538"/>
<rect x="2200" y="170" width="10" height="26" fill="#f63538"/>
<rect x="2216" y="164" width="2" height="44" fill="#30cc5a"/>
<rect x="2212" y="166" width="10" height="30" fill="#30cc5a"/>
<rect x="2228" y="154" width="2" height="48" fill="#30cc5a"/>
<rect x="2224" y="156" width="10" height="12" fill="#30cc5a"/>
<rect x="2240" y="130" width="2" height="46" fill="#30cc5a"/>
<rect x="2236" y="162" width="10" height="2" fill="#30cc5a"/>
<rect x="2252" y="152" width="2" height="136" fill="#f63538"/>
<rect x="2248" y="160" width="10" height="110" fill="#f63538"/>
<rect x="2264" y="268" width="2" height="86" fill="#f63538"/>
<rect x="2260" y="270" width="10" height="60" fill="#f63538"/>
<rect x="2276" y="324" width="2" height="38" fill="#f63538"/>
<rect x="2272" y="334" width="10" height="6" fill="#f63538"/>
<rect x="2288" y="330" width="2" height="44" fill="#f63538"/>
<rect x="2284" y="340" width="10" height="26" fill="#f63538"/>
<rect x="2300" y="360" width="2" height="48" fill="#f63538"/>
<rect x="2296" y="376" width="10" height="18" fill="#f63538"/>
<rect x="2312" y="380" width="2" height="28" fill="#30cc5a"/>
<rect x="2308" y="390" width="10" height="6" fill="#30cc5a"/>
<rect x="2324" y="326" width="2" height="52" fill="#30cc5a"/>
<rect x="2320" y="366" width="10" height="12" fill="#30cc5a"/>
<rect x="2336" y="348" width="2" height="42" fill="#f63538"/>
<rect x="2332" y="368" width="10" height="6" fill="#f63538"/>
<rect x="2348" y="346" width="2" height="36" fill="#30cc5a"/>
<rect x="2344" y="364" width="10" height="4" fill="#30cc5a"/>
<rect x="2360" y="352" width="2" height="50" fill="#f63538"/>
<rect x="2356" y="358" width="10" height="20" fill="#f63538"/>
<rect x="2372" y="354" width="2" height="48" fill="#f63538"/>
<rect x="2368" y="364" width="10" height="36" fill="#f63538"/>
<rect x="2384" y="388" width="2" height="42" fill="#f63538"/>
<rect x="2380" y="398" width="10" height="20" fill="#f63538"/>
<rect x="2396" y="418" width="2" height="36" fill="#f63538"/>
<rect x="2392" y="430" width="10" height="16" fill="#f63538"/>
<rect x="2408" y="432" width="2" height="36" fill="#30cc5a"/>
<rect x="2404" y="446" width="10" height="8" fill="#30cc5a"/>
<rect x="2420" y="458" width="2" height="150" fill="#f63538"/>
<rect x="2416" y="464" width="10" height="114" fill="#f63538"/>
<rect x="2432" y="582" width="2" height="82" fill="#f63538"/>
<rect x="2428" y="582" width="10" height="20" fill="#f63538"/>
<rect x="2444" y="586" width="2" height="50" fill="#f63538"/>
<rect x="2440" y="612" width="10" height="12" fill="#f63538"/>
<rect x="2456" y="608" width="2" height="46" fill="#f63538"/>
<rect x="2452" y="616" width="10" height="2" fill="#f63538"/>
<rect x="2468" y="612" width="2" height="50" fill="#30cc5a"/>
<rect x="2464" y="622" width="10" height="2" fill="#30cc5a"/>
<rect x="2480" y="594" width="2" height="44" fill="#f63538"/>
<rect x="2476" y="622" width="10" height="12" fill="#f63538"/>
<rect x="2492" y="636" width="2" height="68" fill="#f63538"/>
<rect x="2488" y="636" width="10" height="30" fill="#f63538"/>
<rect x="2504" y="660" width="2" height="56" fill="#f63538"/>
<rect x="2500" y="662" width="10" height="28" fill="#f63538"/>
<rect x="2516" y="666" width="2" height="34" fill="#30cc5a"/>
<rect x="2512" y="674" width="10" height="14" fill="#30cc5a"/>
<rect x="2528" y="640" width="2" height="52" fill="#30cc5a"/>
<rect x="2524" y="656" width="10" height="16" fill="#30cc5a"/>
<rect x="2540" y="628" width="2" height="36" fill="#30cc5a"/>
<rect x="2536" y="630" width="10" height="28" fill="#30cc5a"/>
<rect x="2552" y="584" width="2" height="60" fill="#30cc5a"/>
<rect x="2548" y="590" width="10" height="52" fill="#30cc5a"/>
<rect x="2564" y="528" width="2" height="118" fill="#30cc5a"/>
<rect x="2560" y="546" width="10" height="76" fill="#30cc5a"/>
<rect x="2576" y="530" width="2" height="128" fill="#f63538"/>
<rect x="2572" y="552" width="10" height="98" fill="#f63538"/>
<rect x="2588" y="588" width="2" height="76" fill="#30cc5a"/>
<rect x="2584" y="600" width="10" height="48" fill="#30cc5a"/>
<rect x="2600" y="542" width="2" height="64" fill="#30cc5a"/>
<rect x="2596" y="542" width="10" height="50" fill="#30cc5a"/>
<rect x="2612" y="494" width="2" height="52" fill="#30cc5a"/>
<rect x="2608" y="508" width="10" height="36" fill="#30cc5a"/>
<rect x="2624" y="504" width="2" height="34" fill="#30cc5a"/>
<rect x="2620" y="522" width="10" height="4" fill="#30cc5a"/>
<rect x="2636" y="492" width="2" height="82" fill="#30cc5a"/>
<rect x="2632" y="496" width="10" height="70" fill="#30cc5a"/>
<rect x="2648" y="434" width="2" height="124" fill="#30cc5a"/>
<rect x="2644" y="444" width="10" height="76" fill="#30cc5a"/>
<rect x="2660" y="390" width="2" height="56" fill="#30cc5a"/>
<rect x="2656" y="396" width="10" height="44" fill="#30cc5a"/>
<rect x="2672" y="332" width="2" height="54" fill="#f63538"/>
<rect x="2668" y="350" width="10" height="14" fill="#f63538"/>
<rect x="2684" y="372" width="2" height="30" fill="#f63538"/>
<rect x="2680" y="378" width="10" height="6" fill="#f63538"/>
</g>
<polyline fill="none" stroke="#d8b42f" stroke-width="1.8" stroke-opacity="0.5" stroke-linejoin="round" points="70,474.8 107,471.6 154,470.8 201.6,468.5 237,462.6 272,457.5 308,452.7 343,447.6 366.7,443.7 394,441.7 418,441 441.4,438.2 465,435.8 488.6,435.4 512,433.1 536,431.9 559,430.3 583,428 600,426.1 628,423.2 656.5,421 685,418.2 713,416.2 741,413.9 769.5,411.9 798,409.7 826,407.1 848.7,405 871,405 896.7,403 944.7,403 956,405 1066,405 1080.4,403 1108.6,403 1125.6,400.8 1140,400.8 1148.5,403 1436.7,403 1449.4,405 1496,405 1507.3,407 1603.4,407 1617.5,409 1677,409 1689.6,411 1697,410.8 1714,413 1736.5,415 1759,417 1773,418.8 1787.4,418.8 1798.7,421 1810,421 1821.3,423 1838.2,424.4 1855.2,425 1877.8,427 1894.8,429 1906,429 1917.4,431 1965.4,431 1976.7,429 1990.8,429 2007.8,425.8 2024.7,423 2039,423 2061.5,418.8 2084,415 2098,415 2120.8,410.8 2146,406.6 2169,402.7 2183,402.7 2205.6,398.7 2220,397 2252,392.5 2276.5,389.3 2291.3,388.9 2313.4,385.2 2328,383.9 2347.8,380.3 2365,377.8 2387,376.6 2409,372.3 2441,372.3 2456,370.6 2493,370.6 2505,372.3 2560,372.3 2566,370.7 2636.6,370.7 2648.4,372.7 2662,372.7 2674,370.5 2685,370.5"/>
<polyline fill="none" stroke="#ff9c2e" stroke-width="1.9" stroke-opacity="0.85" stroke-linejoin="round" points="70,517.6 83.6,529.4 99.3,543.2 119,561 138.6,577.6 152.6,586.6 164.9,589.5 177,592.7 189,595 201,597 225,597 237,595 249,593 273,591.3 309,591 321.4,589.5 335,588.4 357.5,587 370.7,585.3 394,583.2 418,581.3 441.6,580.8 453.5,579 469,575.4 488.6,569.5 500.4,569 524,561.7 547.6,550.3 563.3,544.4 583,534.5 598.7,528.2 620,516.8 633,510.6 656.5,497.6 685,484 707.4,475.5 741.3,459.4 766.7,448.7 792,440.2 812.5,432.9 874,432.9 885.4,431 896.7,432.9 922,432.9 933.4,430.6 947.6,432.9 967.3,436.8 992.8,436.8 1007,434.8 1077.5,434.8 1088.8,432.9 1100,429 1111.4,427 1125.6,422.7 1137,421 1160,417.5 1174,413.6 1196.5,408.8 1225,402.3 1267,395.2 1281,391 1304,386.7 1329,380.5 1354.7,374.8 1380,366.4 1401.4,358.5 1425.4,351.4 1450.8,347.2 1473.4,344.3 1484.7,344.3 1496,342.9 1507.3,338.7 1530,333 1547,327.4 1564,321.2 1581,313.2 1598,307.6 1617.5,300.5 1637,297 1657,294 1677,290.7 1688.5,290.7 1699.8,292.7 1793,292.7 1796,295 1810,295 1827,297.8 1844,300.6 1880.6,300.6 1892,304.6 1909,305 1928.7,309 1940,311 1962.6,312.7 2025,312.7 2047.3,309.2 2064.3,304 2087,296.6 2120.8,285.1 2132,283.1 2146,278.9 2169,275 2192,271 2205.7,271 2218,268.5 2240,261 2252.4,258.8 2289,258.8 2301.3,261.1 2312.5,258.8 2326,258.8 2337,261.1 2352.7,261.1 2372,264.8 2391,268.5 2409,271.5 2431.4,279.5 2456,290.6 2468,299.2 2480.5,305.3 2505,320 2527,334.8 2540,341 2560,350.1 2579.7,361 2599.3,373.7 2619,385.5 2636.6,395.3 2648.4,399.2 2660.2,405 2672,407.1 2685,413"/>
<polyline fill="none" stroke="#d834c1" stroke-width="1.8" stroke-opacity="0.46" stroke-linejoin="round" points="70,663 81,668.7 93,673 105,673 117,675 129,677.5 141,681.2 153,679 165,675 177,671 189,662.5 201,662.5 213,653 225,638 237,623 249,608 261,594.5 273,581 285,568.5 298,555.8 309,548 320,541 332,533 343,525.5 355,518.5 367,511.5 382,499 394,490 406,484 418,478.3 430,471.5 438,467.3 449,463.4 465,462.6 477,464.8 489,466.5 501,472.4 513,475 526,476.6 538,476.5 550,476 562,473.5 573,471 585,468.5 597,467 609,461.5 614,460.5 634,450.7 657,443 682,434.5 693,429 713,421.8 733,414.8 753,405 775,397 798,392.7 820,389.3 837,386.8 860,386.8 883,390.8 900,395.6 919,403 933,410.5 946,417.6 956,427.5 967,438.8 981.5,446.7 996,451.5 1010,455.2 1024,458.6 1041,462 1052,464.8 1066,468.5 1080,466.5 1097,463.7 1111,460.8 1126,455.7 1140,448 1163,432 1185,412 1196.5,398 1210.6,382.5 1233,364 1256,347 1281,328.8 1292.6,316 1306.7,302 1329,287.8 1340.6,279.3 1366,265.2 1388.7,254 1408.4,245.4 1425.4,240.6 1448,240.6 1462,243.5 1473.4,246.8 1496,258 1510,261 1524,266.6 1535.6,272.3 1547,275 1558,280.8 1581,285 1600.6,288.7 1617.5,295 1629,297.7 1640,304.8 1651.5,313.2 1663,319 1677,323.1 1688,327.4 1697,327.5 1711,330.3 1725,330.3 1736.5,327 1759,327 1773,324.7 1784.5,322.7 1798.7,326.6 1810,330.3 1821,334 1832.6,338.8 1844,343 1858,345 1869,343 1880.6,339.6 1895,336.8 1906,335 1917.4,334.5 1928.7,331.2 1940,327.5 1951,321.8 1965.4,314.8 1976.7,310.5 1988,305 2013,296.6 2025,289.3 2039,282.3 2050,275.2 2061.5,266.2 2075.6,254 2087,245.5 2109,228.5 2145,210 2169,199 2181,194.8 2203,185 2223,177.6 2240,174.6 2252.4,180 2272,192.3 2301.5,214.4 2314,228 2336,249 2351,260.5 2371,280 2377,284.4 2397,307.8 2409,316.8 2424,341 2441,370.4 2456,402.4 2468,424.5 2478.3,444.4 2490.6,464 2503,481.3 2517.6,501 2530,515.7 2542,528 2559.4,544 2574,560 2586.6,572.2 2601.3,583.2 2613.5,587 2625.8,593 2638,595 2649.3,595 2660.4,588 2672.6,576.5 2685,563"/>
<line x1="1425" y1="175.5" x2="2685" y2="120.6" stroke="#c83cdc" stroke-width="2.1"/>
<line x1="957" y1="599" x2="2685" y2="699" stroke="#0a96e6" stroke-width="2.2"/>
<path d="M181.80,787.26 Q181.80,785.20 183.72,784.46 L199.46,778.41 Q200.00,778.20 200.54,778.41 L216.28,784.46 Q218.20,785.20 218.20,787.26 L218.20,813.00 Q218.20,818.00 213.20,818.00 L186.80,818.00 Q181.80,818.00 181.80,813.00 Z" fill="#17151f" stroke="#17151f" stroke-width="3.4" stroke-linejoin="round"/>
<path d="M181.80,787.26 Q181.80,785.20 183.72,784.46 L199.46,778.41 Q200.00,778.20 200.54,778.41 L216.28,784.46 Q218.20,785.20 218.20,787.26 L218.20,813.00 Q218.20,818.00 213.20,818.00 L186.80,818.00 Q181.80,818.00 181.80,813.00 Z" fill="#00a651"/>
<path d="M186.25,788.55 Q186.25,788.00 186.77,787.80 L199.82,782.87 Q200.00,782.80 200.18,782.87 L213.23,787.80 Q213.75,788.00 213.75,788.55 L213.75,812.80 Q213.75,813.80 212.75,813.80 L187.25,813.80 Q186.25,813.80 186.25,812.80 Z" fill="#14261c"/>
<g fill="#fff"><rect x="193.9" y="790.5" width="2.7" height="17.6"/><rect x="193.9" y="790.5" width="11.1" height="2.5"/><rect x="193.9" y="797.9" width="10.3" height="2.5"/><rect x="193.9" y="805.6" width="11.3" height="2.5"/></g>
<path d="M925.60,787.26 Q925.60,785.20 927.52,784.46 L943.26,778.41 Q943.80,778.20 944.34,778.41 L960.08,784.46 Q962.00,785.20 962.00,787.26 L962.00,813.00 Q962.00,818.00 957.00,818.00 L930.60,818.00 Q925.60,818.00 925.60,813.00 Z" fill="#17151f" stroke="#17151f" stroke-width="3.4" stroke-linejoin="round"/>
<path d="M925.60,787.26 Q925.60,785.20 927.52,784.46 L943.26,778.41 Q943.80,778.20 944.34,778.41 L960.08,784.46 Q962.00,785.20 962.00,787.26 L962.00,813.00 Q962.00,818.00 957.00,818.00 L930.60,818.00 Q925.60,818.00 925.60,813.00 Z" fill="#00a651"/>
<path d="M930.05,788.55 Q930.05,788.00 930.57,787.80 L943.62,782.87 Q943.80,782.80 943.98,782.87 L957.03,787.80 Q957.55,788.00 957.55,788.55 L957.55,812.80 Q957.55,813.80 956.55,813.80 L931.05,813.80 Q930.05,813.80 930.05,812.80 Z" fill="#14261c"/>
<g fill="#fff"><rect x="937.7" y="790.5" width="2.7" height="17.6"/><rect x="937.7" y="790.5" width="11.1" height="2.5"/><rect x="937.7" y="797.9" width="10.3" height="2.5"/><rect x="937.7" y="805.6" width="11.3" height="2.5"/></g>
<path d="M1693.80,787.26 Q1693.80,785.20 1695.72,784.46 L1711.46,778.41 Q1712.00,778.20 1712.54,778.41 L1728.28,784.46 Q1730.20,785.20 1730.20,787.26 L1730.20,813.00 Q1730.20,818.00 1725.20,818.00 L1698.80,818.00 Q1693.80,818.00 1693.80,813.00 Z" fill="#17151f" stroke="#17151f" stroke-width="3.4" stroke-linejoin="round"/>
<path d="M1693.80,787.26 Q1693.80,785.20 1695.72,784.46 L1711.46,778.41 Q1712.00,778.20 1712.54,778.41 L1728.28,784.46 Q1730.20,785.20 1730.20,787.26 L1730.20,813.00 Q1730.20,818.00 1725.20,818.00 L1698.80,818.00 Q1693.80,818.00 1693.80,813.00 Z" fill="#00a651"/>
<path d="M1698.25,788.55 Q1698.25,788.00 1698.77,787.80 L1711.82,782.87 Q1712.00,782.80 1712.18,782.87 L1725.23,787.80 Q1725.75,788.00 1725.75,788.55 L1725.75,812.80 Q1725.75,813.80 1724.75,813.80 L1699.25,813.80 Q1698.25,813.80 1698.25,812.80 Z" fill="#14261c"/>
<g fill="#fff"><rect x="1705.9" y="790.5" width="2.7" height="17.6"/><rect x="1705.9" y="790.5" width="11.1" height="2.5"/><rect x="1705.9" y="797.9" width="10.3" height="2.5"/><rect x="1705.9" y="805.6" width="11.3" height="2.5"/></g>
<rect x="-19" y="-19" width="38" height="38" rx="5.5" fill="#17151f" transform="translate(644.05,800.2) rotate(45)"/>
<rect x="-17.3" y="-17.3" width="34.6" height="34.6" rx="4" fill="#f8535f" transform="translate(644.05,800.2) rotate(45)"/>
<rect x="-13.1" y="-13.1" width="26.2" height="26.2" rx="1" fill="#48151a" transform="translate(644.05,800.2) rotate(45)"/>
<text x="0" y="0" font-size="24.5" fill="#fff" text-anchor="middle" transform="translate(644.35,808.2) scale(0.92,1)">R</text>
<path d="M2533.85,786.80 Q2533.85,781.80 2538.85,781.80 L2565.25,781.80 Q2570.25,781.80 2570.25,786.80 L2570.25,813.04 Q2570.25,815.10 2568.33,815.84 L2552.59,821.89 Q2552.05,822.10 2551.51,821.89 L2535.77,815.84 Q2533.85,815.10 2533.85,813.04 Z" fill="#17151f" stroke="#17151f" stroke-width="3.4" stroke-linejoin="round"/>
<path d="M2533.85,786.80 Q2533.85,781.80 2538.85,781.80 L2565.25,781.80 Q2570.25,781.80 2570.25,786.80 L2570.25,813.04 Q2570.25,815.10 2568.33,815.84 L2552.59,821.89 Q2552.05,822.10 2551.51,821.89 L2535.77,815.84 Q2533.85,815.10 2533.85,813.04 Z" fill="#f8535f"/>
<path d="M2538.35,787.20 Q2538.35,786.20 2539.35,786.20 L2564.75,786.20 Q2565.75,786.20 2565.75,787.20 L2565.75,811.55 Q2565.75,812.10 2565.23,812.30 L2552.23,817.23 Q2552.05,817.30 2551.87,817.23 L2538.87,812.30 Q2538.35,812.10 2538.35,811.55 Z" fill="#48151a"/>
<g fill="#fff"><rect x="2545.95" y="790.5" width="2.7" height="17.6"/><rect x="2545.95" y="790.5" width="11.1" height="2.5"/><rect x="2545.95" y="797.9" width="10.3" height="2.5"/><rect x="2545.95" y="805.6" width="11.3" height="2.5"/></g>
<text class="ax bl" x="2706.3" y="0" transform="translate(0,109.9) scale(1,1.07)">40.00</text>
<text class="ax bl" x="2706.3" y="0" transform="translate(0,199.9) scale(1,1.07)">38.00</text>
<text class="ax bl" x="2706.3" y="0" transform="translate(0,289.9) scale(1,1.07)">36.00</text>
<text class="ax bl" x="2706.3" y="0" transform="translate(0,379.9) scale(1,1.07)">34.00</text>
<text class="ax bl" x="2706.3" y="0" transform="translate(0,469.9) scale(1,1.07)">32.00</text>
<text class="ax bl" x="2706.3" y="0" transform="translate(0,559.9) scale(1,1.07)">30.00</text>
<text class="ax bl" x="2706.3" y="0" transform="translate(0,649.9) scale(1,1.07)">28.00</text>
<text class="ax bl" x="2706.3" y="0" transform="translate(0,739.9) scale(1,1.07)">26.00</text>
<text class="ax bl" x="2706.3" y="0" transform="translate(0,829.9) scale(1,1.07)">24.00</text>
<rect x="2702" y="369" width="61" height="25" fill="#f0c22c"/>
<text x="2707" y="389.2" font-size="20.8" fill="#333844" stroke="#333844" stroke-width="0.4">33.77</text>
<text class="ax bl" x="65.6" y="0" text-anchor="end" transform="translate(0,709.5) scale(1,1.06)">4M</text>
<text class="ax bl" x="65.6" y="0" text-anchor="end" transform="translate(0,739.5) scale(1,1.06)">3M</text>
<text class="ax bl" x="65.6" y="0" text-anchor="end" transform="translate(0,769.9) scale(1,1.06)">2M</text>
<text class="ax bl" x="65.6" y="0" text-anchor="end" transform="translate(0,799) scale(1,1.06)">1M</text>
<text x="139.3" y="857.3" font-size="21.33" fill="#8b93ad" text-anchor="middle">May</text>
<text x="391.3" y="857.3" font-size="21.33" fill="#8b93ad" text-anchor="middle">Jun</text>
<text x="631.3" y="857.3" font-size="21.33" fill="#8b93ad" text-anchor="middle">Jul</text>
<text x="895.3" y="857.3" font-size="21.33" fill="#8b93ad" text-anchor="middle">Aug</text>
<text x="1147.3" y="857.3" font-size="21.33" fill="#8b93ad" text-anchor="middle">Sep</text>
<text x="1399.3" y="857.3" font-size="21.33" fill="#8b93ad" text-anchor="middle">Oct</text>
<text x="1675.3" y="857.3" font-size="21.33" fill="#8b93ad" text-anchor="middle">Nov</text>
<text x="1903.3" y="857.3" font-size="21.33" fill="#8b93ad" text-anchor="middle">Dec</text>
<text x="2167.3" y="857.3" font-size="21.33" fill="#8b93ad" text-anchor="middle">2026</text>
<text x="2407.3" y="857.3" font-size="21.33" fill="#8b93ad" text-anchor="middle">Feb</text>
<text x="2635.3" y="857.3" font-size="21.33" fill="#8b93ad" text-anchor="middle">Mar</text>
<clipPath id="lg"><rect x="0" y="98" width="636.5" height="41"/><rect x="0" y="139" width="187.5" height="36"/><rect x="0" y="175" width="188.5" height="36"/><rect x="0" y="211" width="200" height="35"/></clipPath>
<rect x="0" y="98" width="636.5" height="41" fill="#22262f"/>
<rect x="0" y="139" width="187.5" height="36" fill="#22262f"/>
<rect x="0" y="175" width="188.5" height="36" fill="#22262f"/>
<rect x="0" y="211" width="200" height="35" fill="#22262f"/>
<g clip-path="url(#lg)" opacity="0.13" stroke="#363a46" stroke-width="2" stroke-dasharray="6 6" shape-rendering="crispEdges">
<line x1="70" y1="105" x2="700" y2="105"/>
<line x1="70" y1="195" x2="700" y2="195"/>
<line x1="141" y1="104" x2="141" y2="260"/>
<line x1="393" y1="104" x2="393" y2="260"/>
<line x1="633" y1="104" x2="633" y2="260"/>
<line x1="70" y1="149" x2="200" y2="149" stroke="#2e2e86" stroke-dasharray="none" opacity="2"/>
</g>
<text x="27.2" y="39.9" style="font-family:'Liberation Serif',serif" font-size="38.5" font-weight="bold" fill="#fff" stroke="#fff" stroke-width="0.7" letter-spacing="0.25">ﬁnvız</text>
<circle cx="94.2" cy="16.3" r="3.9" fill="#4fa4f4"/>
<text x="24.3" y="0" font-size="48" font-weight="bold" fill="#8b93ad" transform="translate(0,91.3) scale(1,1.04)">CARG</text>
<text x="1350" y="82" font-size="29.33" font-weight="bold" fill="#686e82">DAILY</text>
<text x="2770.5" y="38.1" font-size="26.67" font-weight="bold" fill="#8b93ad" text-anchor="end">Fri MAR 06 2026 12:35 PM ET</text>
<text x="2769.6" y="82.2" font-size="29.33" font-weight="bold" fill="#f8535f" text-anchor="end">-0.43 (1.25%)</text>
<text class="lb" x="26" y="123.9">Mar 6</text>
<text class="lb" x="112" y="123.9">O</text>
<text class="rv" x="132.5" y="123.9">33.93</text>
<text class="lb" x="216" y="123.9">H</text>
<text class="rv" x="234.3" y="123.9">34.03</text>
<text class="lb" x="318" y="123.9">L</text>
<text class="rv" x="332.4" y="123.9">33.40</text>
<text class="lb" x="415.5" y="123.9">C</text>
<text class="rv" x="434.6" y="123.9">33.77</text>
<text class="lb" x="517.5" y="123.9">Vol</text>
<text class="rv" x="549.6" y="123.9">282.12K</text>
<text x="26" y="159.7" font-size="21.33" fill="#7a3079">SMA 20</text>
<rect x="112.5" y="151.1" width="2.2" height="2.2" fill="#c3c7d2"/>
<text x="126.4" y="159.7" font-size="21.33" fill="#7a3079">29.83</text>
<text x="26" y="195.5" font-size="21.33" fill="#e08a2e">SMA 50</text>
<rect x="112.5" y="186.9" width="2.2" height="2.2" fill="#c3c7d2"/>
<text x="126.4" y="195.5" font-size="21.33" fill="#e08a2e">33.16</text>
<text x="26" y="231.6" font-size="21.33" fill="#7d6d2f">SMA 200</text>
<rect x="123.9" y="223" width="2.2" height="2.2" fill="#c3c7d2"/>
<text x="137.9" y="231.6" font-size="21.33" fill="#7d6d2f">34.08</text>
</svg></body></html>
